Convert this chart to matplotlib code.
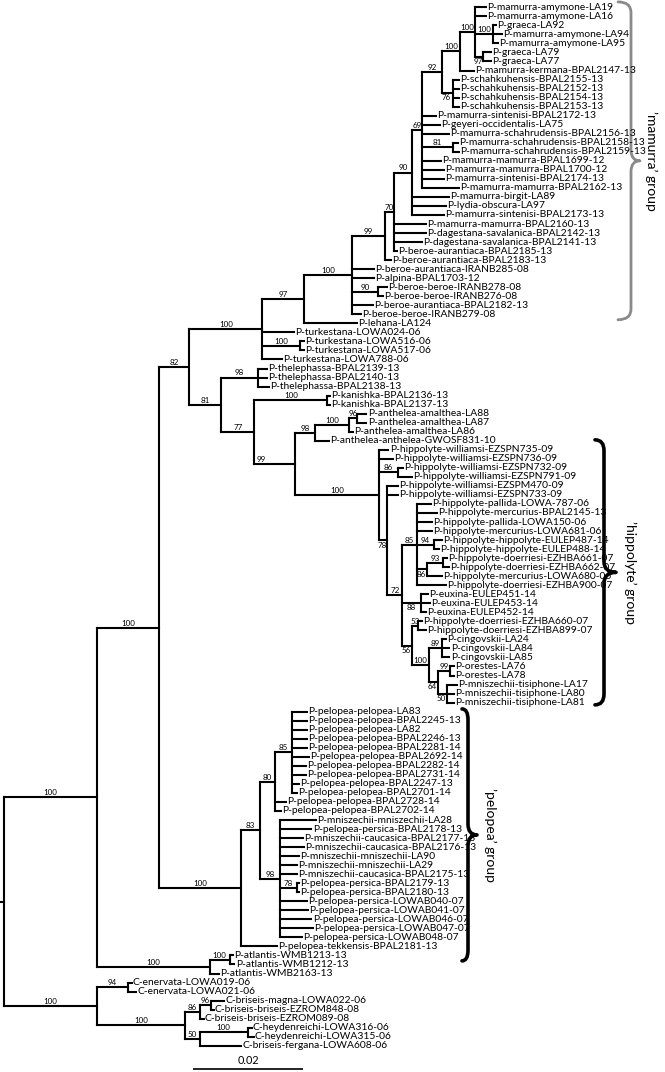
import re
import matplotlib
matplotlib.use("Agg")
import matplotlib.pyplot as plt
from matplotlib.collections import LineCollection
from matplotlib.path import Path
from matplotlib.patches import PathPatch

# ---------------- data (Newick pieces: branch lengths in substitutions/site, support as node label)
amymone_clade = ("(P-mamurra-amymone-LA19:0.0020,P-mamurra-amymone-LA16:0.0020,"
                 "(P-graeca-LA92:0.0005,P-mamurra-amymone-LA94:0.0016,P-mamurra-amymone-LA95:0.0009)100:0.0033,"
                 "(P-graeca-LA79:0.0015,P-graeca-LA77:0.0015)97:0.0015)100:0.0027")
kermana_clade = "(" + amymone_clade + ",P-mamurra-kermana-BPAL2147-13:0.0025)100:0.0033"
schahkuhensis_clade = ("(P-schahkuhensis-BPAL2155-13:0.0011,P-schahkuhensis-BPAL2152-13:0.0011,"
                       "P-schahkuhensis-BPAL2154-13:0.0011,P-schahkuhensis-BPAL2153-13:0.0011)76:0.0020")
mamurra_69 = ("((" + kermana_clade + "," + schahkuhensis_clade + ")92:0.0036,"
              "P-mamurra-sintenisi-BPAL2172-13:0.0025,P-geyeri-occidentalis-LA75:0.0033,"
              "P-mamurra-schahrudensis-BPAL2156-13:0.0049,"
              "(P-mamurra-schahrudensis-BPAL2158-13:0.0009,P-mamurra-schahrudensis-BPAL2159-13:0.0011)81:0.0056,"
              "P-mamurra-mamurra-BPAL1699-12:0.0035,P-mamurra-mamurra-BPAL1700-12:0.0040,"
              "P-mamurra-sintenisi-BPAL2174-13:0.0040,P-mamurra-mamurra-BPAL2162-13:0.0067)69:0.0018")
mamurra_90 = ("(" + mamurra_69 + ",P-mamurra-birgit-LA89:0.0067,P-lydia-obscura-LA97:0.0062,"
              "P-mamurra-sintenisi-BPAL2173-13:0.0058)90:0.0033")
mamurra_70 = ("(" + mamurra_90 + ",P-mamurra-mamurra-BPAL2160-13:0.0058,P-dagestana-savalanica-BPAL2142-13:0.0058,"
              "P-dagestana-savalanica-BPAL2141-13:0.0051,P-beroe-aurantiaca-BPAL2185-13:0.0005)70:0.0016")
mamurra_99 = "(" + mamurra_70 + ",P-beroe-aurantiaca-BPAL2183-13:0.0011)99:0.0060"
beroe_clade = ("(" + mamurra_99 + ",P-beroe-aurantiaca-IRANB285-08:0.0040,P-alpina-BPAL1703-12:0.0040,"
               "(P-beroe-beroe-IRANB278-08:0.0016,P-beroe-beroe-IRANB276-08:0.0009)90:0.0047,"
               "P-beroe-aurantiaca-BPAL2182-13:0.0038,P-beroe-beroe-IRANB279-08:0.0016)100:0.0087")
lehana_clade = "(" + beroe_clade + ",P-lehana-LA124:0.0095)97:0.0076"
turkestana_clade = ("(" + lehana_clade + ",P-turkestana-LOWA024-06:0.0058,"
                    "(P-turkestana-LOWA516-06:0.0007,P-turkestana-LOWA517-06:0.0007)100:0.0069,"
                    "P-turkestana-LOWA788-06:0.0036)100:0.0133")

thelephassa_clade = ("(P-thelephassa-BPAL2139-13:0.0016,P-thelephassa-BPAL2140-13:0.0016,"
                     "P-thelephassa-BPAL2138-13:0.0020)98:0.0067")
kanishka_clade = "(P-kanishka-BPAL2136-13:0.0005,P-kanishka-BPAL2137-13:0.0005)100:0.0133"
anthelea_clade = ("(((P-anthelea-amalthea-LA88:0.0018,P-anthelea-amalthea-LA87:0.0018)96:0.0013,"
                  "P-anthelea-amalthea-LA86:0.0007)100:0.0062,P-anthelea-anthelea-GWOSF831-10:0.0025)98:0.0036")

hippolyte_85 = ("(P-hippolyte-pallida-LOWA-787-06:0.0025,P-hippolyte-mercurius-BPAL2145-13:0.0036,"
                "P-hippolyte-pallida-LOWA150-06:0.0027,P-hippolyte-mercurius-LOWA681-06:0.0027,"
                "(P-hippolyte-hippolyte-EULEP487-14:0.0015,P-hippolyte-hippolyte-EULEP488-14:0.0009)94:0.0031,"
                "((P-hippolyte-doerriesi-EZHBA661-07:0.0007,P-hippolyte-doerriesi-EZHBA662-07:0.0011)93:0.0029,"
                "P-hippolyte-mercurius-LOWA680-06:0.0027)86:0.0018,"
                "P-hippolyte-doerriesi-EZHBA900-07:0.0053)85:0.0027")
euxina_clade = "(P-euxina-EULEP451-14:0.0011,P-euxina-EULEP453-14:0.0015,P-euxina-EULEP452-14:0.0009)88:0.0035"
cingovskii_clade = ("((P-hippolyte-doerriesi-EZHBA660-07:0.0007,P-hippolyte-doerriesi-EZHBA899-07:0.0015)53:0.0011,"
                    "((P-cingovskii-LA24:0.0007,P-cingovskii-LA84:0.0013,P-cingovskii-LA85:0.0013)89:0.0024,"
                    "((P-orestes-LA76:0.0007,P-orestes-LA78:0.0007)99:0.0022,"
                    "(P-mniszechii-tisiphone-LA17:0.0018,P-mniszechii-tisiphone-LA80:0.0013,"
                    "P-mniszechii-tisiphone-LA81:0.0013)50:0.0016)64:0.0016)100:0.0031)56:0.0018")
hippolyte_clade = ("(P-hippolyte-williamsi-EZSPN735-09:0.0018,P-hippolyte-williamsi-EZSPN736-09:0.0027,"
                   "(P-hippolyte-williamsi-EZSPN732-09:0.0009,P-hippolyte-williamsi-EZSPN791-09:0.0025)86:0.0035,"
                   "(P-hippolyte-williamsi-EZSPM470-09:0.0020,P-hippolyte-williamsi-EZSPN733-09:0.0020,"
                   "(" + hippolyte_85 + "," + euxina_clade + "," + cingovskii_clade + ")72:0.0027)78:0.0016)100:0.0151")
southern_clade = ("(" + thelephassa_clade + ",(" + kanishka_clade + ",(" + anthelea_clade + "," +
                  hippolyte_clade + ")99:0.0075)77:0.0060)81:0.0058")

pelopea_85 = ("(P-pelopea-pelopea-LA83:0.0027,P-pelopea-pelopea-BPAL2245-13:0.0027,P-pelopea-pelopea-LA82:0.0027,"
              "P-pelopea-pelopea-BPAL2246-13:0.0027,P-pelopea-pelopea-BPAL2281-14:0.0027,"
              "P-pelopea-pelopea-BPAL2692-14:0.0031,P-pelopea-pelopea-BPAL2282-14:0.0025,"
              "P-pelopea-pelopea-BPAL2731-14:0.0025,P-pelopea-pelopea-BPAL2247-13:0.0013,"
              "P-pelopea-pelopea-BPAL2701-14:0.0009)85:0.0031")
pelopea_80 = ("(" + pelopea_85 + ",P-pelopea-pelopea-BPAL2728-14:0.0020,"
              "P-pelopea-pelopea-BPAL2702-14:0.0011)80:0.0027")
persica_98 = ("(P-mniszechii-mniszechii-LA28:0.0067,P-pelopea-persica-BPAL2178-13:0.0058,"
              "P-mniszechii-caucasica-BPAL2177-13:0.0042,P-mniszechii-caucasica-BPAL2176-13:0.0045,"
              "P-mniszechii-mniszechii-LA90:0.0036,P-mniszechii-mniszechii-LA29:0.0031,"
              "P-mniszechii-caucasica-BPAL2175-13:0.0031,"
              "(P-pelopea-persica-BPAL2179-13:0.0005,P-pelopea-persica-BPAL2180-13:0.0005)78:0.0031,"
              "P-pelopea-persica-LOWAB040-07:0.0049,P-pelopea-persica-LOWAB041-07:0.0051,"
              "P-pelopea-persica-LOWAB046-07:0.0058,P-pelopea-persica-LOWAB047-07:0.0060,"
              "P-pelopea-persica-LOWAB048-07:0.0040)98:0.0035")
pelopea_clade = ("((" + pelopea_80 + "," + persica_98 + ")83:0.0035,"
                 "P-pelopea-tekkensis-BPAL2181-13:0.0065)100:0.0149")
atlantis_clade = ("((P-atlantis-WMB1213-13:0.0007,P-atlantis-WMB1212-13:0.0009)100:0.0036,"
                  "P-atlantis-WMB2163-13:0.0016)100:0.0205")
chazara_clade = ("((C-enervata-LOWA019-06:0.0007,C-enervata-LOWA021-06:0.0015)94:0.0056,"
                 "(((C-briseis-magna-LOWA022-06:0.0024,C-briseis-briseis-EZROM848-08:0.0005)96:0.0020,"
                 "C-briseis-briseis-EZROM089-08:0.0007)86:0.0027,"
                 "((C-heydenreichi-LOWA316-06:0.0007,C-heydenreichi-LOWA315-06:0.0011)100:0.0087,"
                 "C-briseis-fergana-LOWA608-06:0.0075)50:0.0027)100:0.0160)100:0.0169")
tree_newick = ("((((" + turkestana_clade + "," + southern_clade + ")82:0.0055," + pelopea_clade +
               ")100:0.0113," + atlantis_clade + ")100:0.0169," + chazara_clade + ");")

group_labels = ["\u2019mamurra\u2019 group", "\u2019hippolyte\u2019 group", "\u2019pelopea\u2019 group"]
group_first = ["P-mamurra-amymone-LA19", "P-hippolyte-williamsi-EZSPN735-09", "P-pelopea-pelopea-LA83"]
group_last = ["P-beroe-beroe-IRANB279-08", "P-mniszechii-tisiphone-LA81", "P-pelopea-tekkensis-BPAL2181-13"]
scale_bar_length = 0.02

# supports drawn below their branch / shifted (style)
below_labels = {("P-graeca-LA79", "97"), ("P-schahkuhensis-BPAL2155-13", "76"),
                ("P-hippolyte-williamsi-EZSPM470-09", "78"), ("P-euxina-EULEP451-14", "88"),
                ("P-hippolyte-doerriesi-EZHBA660-07", "56"), ("P-orestes-LA76", "64"),
                ("P-mniszechii-tisiphone-LA17", "50"), ("P-hippolyte-doerriesi-EZHBA661-07", "86")}
left_labels = {("P-anthelea-amalthea-LA88", "99")}


# ---------------- parse
def parse_newick(s):
    pos = 0

    def node():
        nonlocal pos
        n = {"children": [], "name": "", "len": 0.0, "support": ""}
        if s[pos] == "(":
            pos += 1
            while True:
                n["children"].append(node())
                if s[pos] == ",":
                    pos += 1
                    continue
                pos += 1
                break
        m = re.match(r"[^:,();]*", s[pos:])
        lab = m.group(0)
        pos += len(lab)
        if n["children"]:
            n["support"] = lab
        else:
            n["name"] = lab
        if s[pos] == ":":
            pos += 1
            m = re.match(r"[0-9.eE+\-]+", s[pos:])
            n["len"] = float(m.group(0))
            pos += len(m.group(0))
        return n

    return node()


root = parse_newick(tree_newick)

leaves = []


def layout(n, x0):
    n["x"] = x0 + n["len"]
    if not n["children"]:
        leaves.append(n)
        n["y"] = float(len(leaves))
        n["first"] = n["name"]
        return
    for c in n["children"]:
        layout(c, n["x"])
    n["y"] = 0.5 * (n["children"][0]["y"] + n["children"][-1]["y"])
    n["first"] = n["children"][0]["first"]


root["len"] = 0.0
layout(root, 0.0)

# ---------------- figure
W, H = 665, 1072
fig = plt.figure(figsize=(W / 100, H / 100), dpi=100)
ax = fig.add_axes([0, 0, 1, 1])
ax.set_axis_off()
PX = 0.02 / 110.0            # data units per pixel along x
ROW = 9.03                   # pixels per leaf row
ax.set_xlim(-4 * PX, (W - 4) * PX)
ax.set_ylim(1 + (H - 7.3) / ROW, 1 - 7.3 / ROW)

segs = []
labels = []


def draw(n, parent_x):
    if parent_x is not None:
        segs.append([(parent_x, n["y"]), (n["x"], n["y"])])
        if n["support"]:
            labels.append((parent_x, n))
    if n["children"]:
        segs.append([(n["x"], n["children"][0]["y"]), (n["x"], n["children"][-1]["y"])])
        for c in n["children"]:
            draw(c, n["x"])


draw(root, None)
segs.append([(-4 * PX, root["y"]), (0, root["y"])])
lc = LineCollection(segs, colors="black", linewidths=1.5, capstyle="projecting")
ax.add_collection(lc)

FONT = ["Lato", "DejaVu Sans"]
for lf in leaves:
    ax.text(lf["x"] + 1.2 * PX, lf["y"], lf["name"], ha="left", va="center",
            family=FONT, fontsize=7.35, color="black")

SUP = 5.8
for px0, n in labels:
    key = (n["first"], n["support"])
    xm = 0.5 * (px0 + n["x"])
    if key in below_labels:
        ax.text(xm - 1 * PX, n["y"] + 0.12, n["support"], ha="center", va="top",
                family=FONT, fontsize=SUP)
    elif key in left_labels:
        ax.text(px0 + 2 * PX, n["y"] - 0.12, n["support"], ha="left", va="bottom",
                family=FONT, fontsize=SUP)
    else:
        ax.text(xm, n["y"] - 0.12, n["support"], ha="center", va="bottom",
                family=FONT, fontsize=SUP)

# scale bar
sb_x0 = 189 * PX
sb_y = 1 + (1069 - 7.3) / ROW
ax.plot([sb_x0, sb_x0 + scale_bar_length], [sb_y, sb_y], color="black", lw=1.2, solid_capstyle="butt")
ax.text(sb_x0 + scale_bar_length / 2, sb_y - 0.3, "%.2f" % scale_bar_length, ha="center", va="bottom",
        family=FONT, fontsize=7.8)

# group braces
name_y = {lf["name"]: lf["y"] for lf in leaves}
brace_x = [627 * PX, 600 * PX, 464 * PX]
brace_w = [13 * PX, 9 * PX, 6 * PX]
brace_t = [9 * PX, 12 * PX, 9 * PX]
brace_pad = [(0.6, 0.6), (1.1, 0.25), (0.3, 1.6)]
brace_col = ["#8a8a8a", "black", "black"]
brace_lw = [2.0, 2.6, 2.6]
text_x = [647 * PX, 626 * PX, 486 * PX]


def brace(x, y0, y1, w, t, color, lw):
    ym = 0.5 * (y0 + y1)
    r = 1.2
    verts = [(x - w, y0), (x, y0), (x, y0 + r), (x, ym - r), (x, ym), (x + t, ym),
             (x, ym), (x, ym + r), (x, y1 - r), (x, y1), (x - w, y1)]
    codes = [Path.MOVETO, Path.CURVE3, Path.CURVE3, Path.LINETO, Path.CURVE3, Path.CURVE3,
             Path.CURVE3, Path.CURVE3, Path.LINETO, Path.CURVE3, Path.CURVE3]
    ax.add_patch(PathPatch(Path(verts, codes), fill=False, edgecolor=color, lw=lw,
                           capstyle="round", joinstyle="round"))


for i, g in enumerate(group_labels):
    y0 = name_y[group_first[i]] - brace_pad[i][0]
    y1 = name_y[group_last[i]] + brace_pad[i][1]
    brace(brace_x[i], y0, y1, brace_w[i], brace_t[i], brace_col[i], brace_lw[i])
    ax.text(text_x[i], 0.5 * (y0 + y1), g, rotation=270, ha="center", va="center",
            family=FONT, fontsize=10, color="black")

fig.savefig("out.png", dpi=100)
